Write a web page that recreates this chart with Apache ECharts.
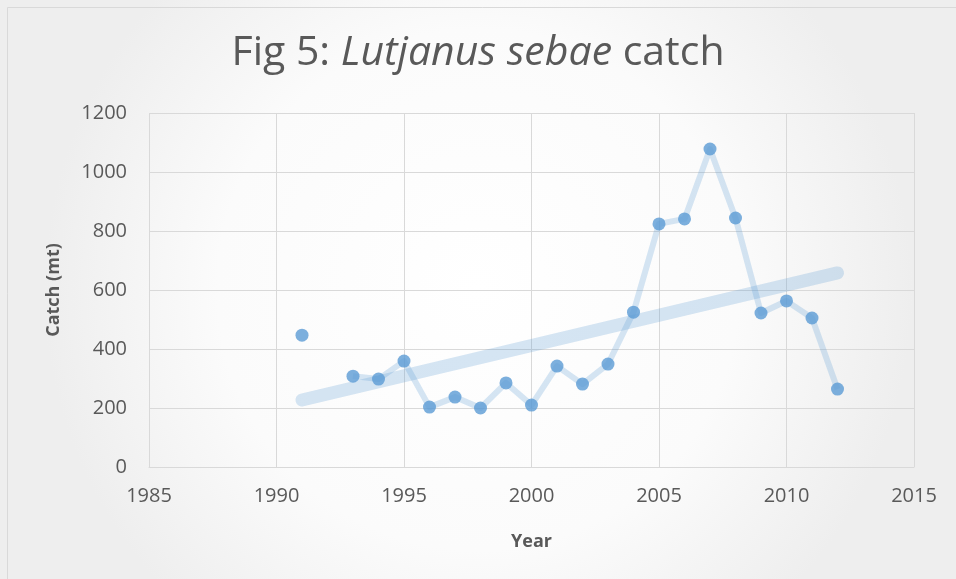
<!DOCTYPE html>
<html><head><meta charset="utf-8">
<script src="https://cdn.jsdelivr.net/npm/echarts@6/dist/echarts.min.js"></script>
<style>html,body{margin:0;padding:0;background:#fff}#c{width:956px;height:579px}</style>
</head><body><div id="c"></div>
<script>
const years = [1991,1992,1993,1994,1995,1996,1997,1998,1999,2000,2001,2002,2003,2004,2005,2006,2007,2008,2009,2010,2011,2012];
const catchMt = [447,null,308,298,359,203,237,200,285,210,342,281,349,525,824,841,1078,844,522,563,505,264];
const trendYears = [1991, 2012];
const trendValues = [227, 658];
const xTicks = [1985,1990,1995,2000,2005,2010,2015];
const yTicks = [0,200,400,600,800,1000,1200];

const FONT = '"Open Sans", "Liberation Sans", sans-serif';
const chart = echarts.init(document.getElementById('c'), null, {renderer:'canvas'});
const pts = years.map((y,i)=>[y,catchMt[i]]);
chart.setOption({
  animation:false,
  backgroundColor:{type:'radial',x:0.5,y:0.5,r:0.75,colorStops:[{offset:0,color:'#ffffff'},{offset:0.6,color:'#fbfbfb'},{offset:1,color:'#eeeeee'}]},
  graphic:[{type:'rect',shape:{x:7.5,y:7.5,width:960,height:600},style:{fill:'none',stroke:'#d9d9d9',lineWidth:1},silent:true}],
  title:{
    text:'{n|Fig 5: }{i|Lutjanus sebae}{n| catch}',
    left:'center', top:28,
    textStyle:{fontWeight:'normal',rich:{
      n:{fontFamily:FONT,fontSize:41,fontWeight:'normal',color:'#595959'},
      i:{fontFamily:FONT,fontSize:41,fontWeight:'normal',color:'#595959',fontStyle:'italic'}
    }}
  },
  grid:{left:149,right:42,top:113,bottom:112},
  xAxis:{
    type:'value',min:1985,max:2015,interval:5,
    name:'Year',nameLocation:'middle',nameGap:66,
    nameTextStyle:{fontFamily:FONT,fontSize:18,fontWeight:'bold',color:'#595959'},
    axisLine:{show:true,lineStyle:{color:'#d9d9d9',width:1}},
    axisTick:{show:false},
    axisLabel:{fontFamily:FONT,fontSize:20,color:'#595959',margin:19,formatter:v=>xTicks.includes(v)?String(v):''},
    splitLine:{show:true,lineStyle:{color:'#d9d9d9',width:1}}
  },
  yAxis:{
    type:'value',min:0,max:1200,interval:200,
    name:'Catch (mt)',nameLocation:'middle',nameGap:86,nameRotate:90,
    nameTextStyle:{fontFamily:FONT,fontSize:18,fontWeight:'bold',color:'#595959'},
    axisLine:{show:false},axisTick:{show:false},
    axisLabel:{fontFamily:FONT,fontSize:20,color:'#595959',margin:22,formatter:v=>yTicks.includes(v)?String(v):''},
    splitLine:{show:true,lineStyle:{color:'#d9d9d9',width:1}}
  },
  series:[
    {type:'line',data:pts,connectNulls:false,showSymbol:false,symbol:'none',
     lineStyle:{color:'rgba(91,155,213,0.25)',width:6,join:'round'},z:2},
    {type:'line',data:trendYears.map((y,i)=>[y,trendValues[i]]),symbol:'none',
     lineStyle:{color:'rgba(91,155,213,0.25)',width:13,cap:'round'},z:3},
    {type:'scatter',data:pts.filter(p=>p[1]!=null),symbol:'circle',symbolSize:13,
     itemStyle:{color:'#5b9bd5'},z:4}
  ]
});
</script></body></html>
